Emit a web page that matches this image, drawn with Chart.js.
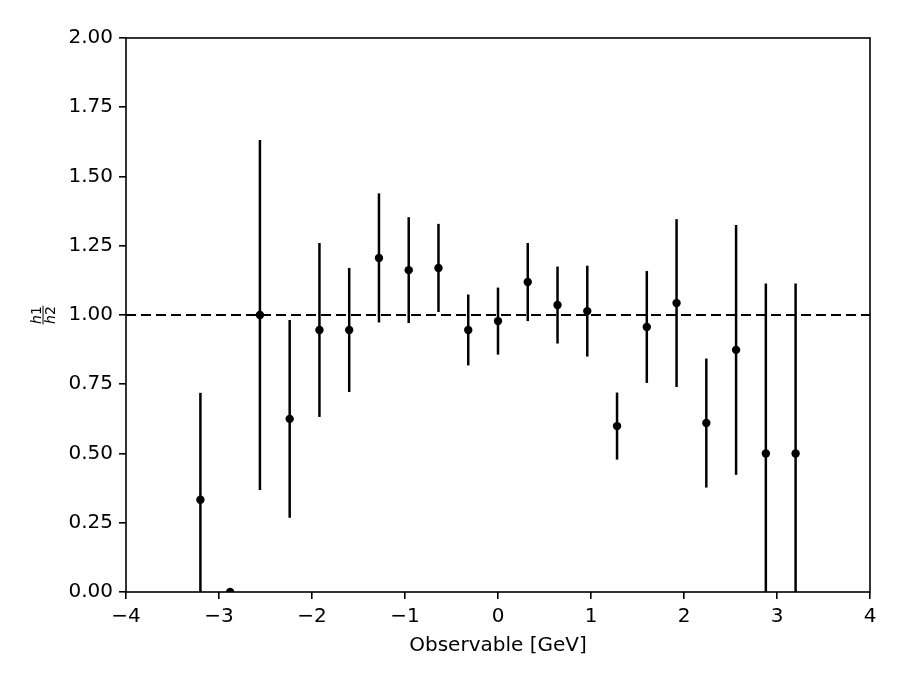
<!DOCTYPE html>
<html>
<head>
<meta charset="utf-8">
<title>h1 / h2 ratio</title>
<script src="https://cdn.jsdelivr.net/npm/chart.js@4.4.1/dist/chart.umd.min.js"></script>
<style>
    html, body { margin: 0; padding: 0; background: #fff; }
    #wrap { width: 906px; height: 687px; }
</style>
</head>
<body>
<div id="wrap"><canvas id="ratioChart"></canvas></div>
<script>
// bin centres and ratio h1/h2 with its uncertainty
const binCenters = [-3.2, -2.88, -2.56, -2.24, -1.92, -1.6, -1.28, -0.96, -0.64, -0.32, 0,
                    0.32, 0.64, 0.96, 1.28, 1.6, 1.92, 2.24, 2.56, 2.88, 3.2];
const ratioValues = [0.333, 0.0, 1.0, 0.625, 0.946, 0.946, 1.206, 1.162, 1.170, 0.946, 0.978,
                     1.119, 1.036, 1.014, 0.599, 0.957, 1.043, 0.610, 0.874, 0.5, 0.5];
const ratioErrors = [0.386, 0.0, 0.632, 0.357, 0.314, 0.224, 0.233, 0.191, 0.159, 0.128, 0.121,
                     0.141, 0.139, 0.164, 0.121, 0.202, 0.303, 0.233, 0.451, 0.614, 0.614];
const xTicks = [-4, -3, -2, -1, 0, 1, 2, 3, 4];
const yTicks = [0, 0.25, 0.5, 0.75, 1.0, 1.25, 1.5, 1.75, 2.0];
const referenceLevel = 1.0;

const FONT = "'DejaVu Sans', sans-serif";

const points = binCenters.map((x, i) => ({ x: x, y: ratioValues[i] }));
const refLine = [
    { x: xTicks[0], y: referenceLevel },
    { x: xTicks[xTicks.length - 1], y: referenceLevel }
];

// vertical error bars, clipped to the axes like matplotlib does
const errorBarPlugin = {
    id: "errorBars",
    beforeDatasetsDraw(chart) {
        const { ctx, chartArea, scales: { x, y } } = chart;
        ctx.save();
        ctx.beginPath();
        ctx.rect(chartArea.left, chartArea.top, chartArea.width, chartArea.height);
        ctx.clip();
        ctx.strokeStyle = "#000";
        ctx.lineWidth = 2.5;
        binCenters.forEach((xc, i) => {
            const err = ratioErrors[i];
            if (!err) return;
            const px = x.getPixelForValue(xc);
            ctx.beginPath();
            ctx.moveTo(px, y.getPixelForValue(ratioValues[i] - err));
            ctx.lineTo(px, y.getPixelForValue(ratioValues[i] + err));
            ctx.stroke();
        });
        ctx.restore();
    }
};

// box around the axes + the fraction-style y label
const framePlugin = {
    id: "frame",
    afterDraw(chart) {
        const { ctx, chartArea } = chart;
        ctx.save();
        ctx.strokeStyle = "#000";
        ctx.lineWidth = 1.6;
        ctx.strokeRect(chartArea.left, chartArea.top, chartArea.width, chartArea.height);

        // h1 over h2, rotated
        const cy = (chartArea.top + chartArea.bottom) / 2;
        ctx.translate(42.5, cy);
        ctx.rotate(-Math.PI / 2);
        ctx.fillStyle = "#000";
        ctx.textBaseline = "alphabetic";
        const drawPart = (letter, digit, baseY) => {
            ctx.font = "italic 14px " + FONT;
            const w1 = ctx.measureText(letter).width;
            ctx.font = "14px " + FONT;
            const w2 = ctx.measureText(digit).width;
            const start = -(w1 + w2) / 2;
            ctx.font = "italic 14px " + FONT;
            ctx.fillText(letter, start, baseY);
            ctx.font = "14px " + FONT;
            ctx.fillText(digit, start + w1, baseY);
            return w1 + w2;
        };
        const wNum = drawPart("h", "1", -2);
        const wDen = drawPart("h", "2", 12);
        const half = Math.max(wNum, wDen) / 2 + 0.5;
        ctx.lineWidth = 1;
        ctx.beginPath();
        ctx.moveTo(-half, 0.5);
        ctx.lineTo(half, 0.5);
        ctx.stroke();
        ctx.restore();
    }
};

const minus = v => String(v).replace("-", "\u2212");

new Chart(document.getElementById("ratioChart"), {
    type: "scatter",
    data: {
        datasets: [
            {
                type: "line",
                data: refLine,
                borderColor: "#000",
                borderWidth: 2.2,
                borderDash: [10, 5],
                pointRadius: 0,
                fill: false
            },
            {
                data: points,
                backgroundColor: "#000",
                borderWidth: 0,
                pointRadius: 4.2,
                pointHoverRadius: 4.2,
                clip: 0
            }
        ]
    },
    options: {
        responsive: true,
        maintainAspectRatio: false,
        animation: false,
        events: [],
        layout: { padding: { top: 38, right: 36, left: 0, bottom: 0 } },
        plugins: {
            legend: { display: false },
            tooltip: { enabled: false }
        },
        scales: {
            x: {
                type: "linear",
                min: xTicks[0],
                max: xTicks[xTicks.length - 1],
                afterBuildTicks: scale => { scale.ticks = xTicks.map(v => ({ value: v })); },
                afterFit: scale => { scale.height = 95; },
                grid: { drawOnChartArea: false, drawTicks: true, tickLength: 7, color: "#000", lineWidth: 1.6 },
                border: { display: false },
                ticks: {
                    color: "#000",
                    padding: 6,
                    font: { family: FONT, size: 20 },
                    callback: v => minus(v)
                },
                title: {
                    display: true,
                    text: "Observable [GeV]",
                    color: "#000",
                    font: { family: FONT, size: 20 },
                    padding: { top: 0, bottom: 29 }
                }
            },
            y: {
                type: "linear",
                min: yTicks[0],
                max: yTicks[yTicks.length - 1],
                afterBuildTicks: scale => { scale.ticks = yTicks.map(v => ({ value: v })); },
                afterFit: scale => { scale.width = 126; },
                grid: { drawOnChartArea: false, drawTicks: true, tickLength: 7, color: "#000", lineWidth: 1.6 },
                border: { display: false },
                ticks: {
                    color: "#000",
                    padding: 6,
                    font: { family: FONT, size: 20 },
                    callback: v => Number(v).toFixed(2)
                }
            }
        }
    },
    plugins: [errorBarPlugin, framePlugin]
});
</script>
</body>
</html>
